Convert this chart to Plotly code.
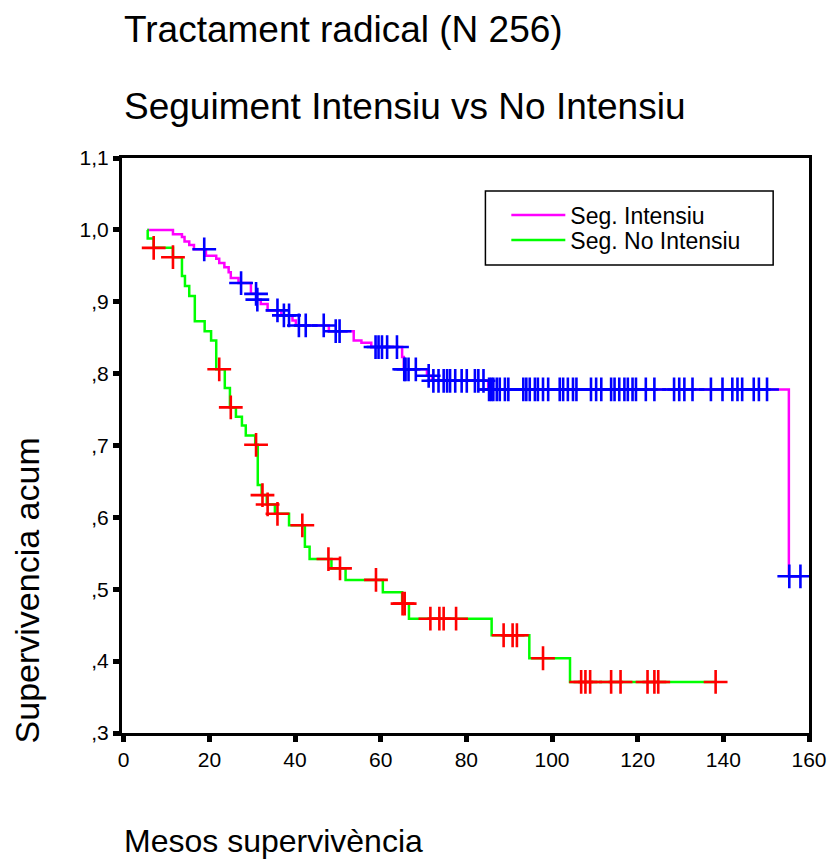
import numpy as np
import plotly.graph_objects as go

# ---------------- data ----------------
int_start = 5.5
int_event_t = [11.5, 13.6, 14.2, 15.3, 16.4, 19.2, 21.6, 22.3, 23.5, 24.5, 25.0, 26.8,
               29.7, 31.1, 32.0, 33.6, 36.8, 39.4, 40.2, 47.9, 53.7, 55.5, 57.8, 65.0,
               65.4, 70.8, 72.0, 85.1, 155.3]
int_event_s = [0.994, 0.990, 0.984, 0.979, 0.973, 0.964, 0.960, 0.954, 0.948, 0.941, 0.933, 0.926,
               0.911, 0.903, 0.897, 0.888, 0.881, 0.874, 0.867, 0.859, 0.846, 0.843, 0.837, 0.823,
               0.806, 0.797, 0.790, 0.778, 0.518]
int_censor = [18.8, 27.4, 30.9, 31.2, 35.9, 37.4, 38.6, 40.9, 42.5, 46.7, 49.5, 50.4, 58.8, 59.5,
              60.3, 61.5, 63.8, 65.5, 65.8, 66.5, 68.2, 71.2, 72.3, 73.5, 74.7, 75.5, 76.2, 77.4,
              78.9, 80.1, 82.0, 82.8, 84.0, 85.3, 85.8, 86.3, 87.1, 87.8, 89.0, 89.8, 93.3, 94.0,
              94.8, 96.0, 96.7, 97.9, 99.1, 101.8, 102.6, 103.7, 104.9, 105.7, 109.1, 110.3, 111.5,
              113.8, 114.6, 115.7, 116.9, 117.7, 118.8, 119.6, 121.9, 123.9, 128.5, 129.7, 130.9,
              132.8, 137.1, 139.8, 142.1, 143.3, 144.4, 147.1, 148.3, 150.2, 155.4, 158.0]

noint_start = 5.5
noint_event_t = [5.6, 7.0, 11.5, 13.6, 14.3, 15.3, 16.6, 18.9, 20.4, 21.6, 23.6, 24.8, 26.2,
                 27.6, 28.5, 30.7, 31.3, 32.2, 33.4, 35.3, 38.6, 42.3, 43.4, 48.5, 51.8, 60.5,
                 65.0, 66.6, 85.9, 94.7, 104.2]
noint_event_s = [0.988, 0.975, 0.962, 0.936, 0.922, 0.908, 0.873, 0.859, 0.846, 0.806, 0.780, 0.753,
                 0.740, 0.728, 0.714, 0.701, 0.645, 0.631, 0.618, 0.605, 0.589, 0.559, 0.542, 0.529,
                 0.513, 0.496, 0.480, 0.459, 0.436, 0.404, 0.371]
noint_censor = [7.0, 11.5, 22.3, 25.0, 30.9, 32.4, 33.6, 35.9, 41.7, 47.8, 50.5, 58.9, 65.1, 65.6,
                71.6, 73.7, 74.7, 77.6, 88.7, 90.8, 91.8, 97.9, 106.8, 107.8, 108.9, 113.8, 116.0,
                122.3, 123.9, 124.8, 138.2]

y_tickvals = [0.3, 0.4, 0.5, 0.6, 0.7, 0.8, 0.9, 1.0, 1.1]
y_ticktext = [",3", ",4", ",5", ",6", ",7", ",8", ",9", "1,0", "1,1"]
x_tickvals = [0, 20, 40, 60, 80, 100, 120, 140, 160]

series_names = ["Seg. Intensiu", "Seg. No Intensiu"]


def km_steps(start, ev_t, ev_s, censor):
    xs = [start] + list(ev_t)
    ys = [1.0] + list(ev_s)
    end = max(censor + list(ev_t))
    xs.append(end)
    ys.append(ys[-1])
    return xs, ys


def censor_y(start, ev_t, ev_s, censor):
    t = np.array([start] + list(ev_t))
    s = np.array([1.0] + list(ev_s))
    idx = np.searchsorted(t, np.array(censor), side="right") - 1
    return s[idx]


FONT = "Liberation Sans, Arial, sans-serif"

# plot area in the reference (pixels); page body adds an 8px offset
PL, PT, PW, PH = 122, 158, 690, 575
OFF = 8


def px(xp):
    return (xp - PL) / PW


def py(yp):
    return 1 - (yp - PT) / PH


fig = go.Figure()

ix, iy = km_steps(int_start, int_event_t, int_event_s, int_censor)
nx, ny = km_steps(noint_start, noint_event_t, noint_event_s, noint_censor)

fig.add_trace(go.Scatter(x=ix, y=iy, mode="lines", line=dict(shape="hv", color="#FF00FF", width=2.5),
                         name=series_names[0], legend="legend"))
fig.add_trace(go.Scatter(x=nx, y=ny, mode="lines", line=dict(shape="hv", color="#00FF00", width=2.5),
                         name=series_names[1], legend="legend2"))
fig.add_trace(go.Scatter(x=int_censor, y=censor_y(int_start, int_event_t, int_event_s, int_censor),
                         mode="markers", showlegend=False,
                         marker=dict(symbol="cross-thin", size=17, color="#0000FF",
                                     line=dict(width=2.6, color="#0000FF"))))
fig.add_trace(go.Scatter(x=noint_censor, y=censor_y(noint_start, noint_event_t, noint_event_s, noint_censor),
                         mode="markers", showlegend=False,
                         marker=dict(symbol="cross-thin", size=17, color="#FF0000",
                                     line=dict(width=2.6, color="#FF0000"))))

leg_common = dict(xanchor="left", yanchor="middle", bgcolor="rgba(0,0,0,0)", borderwidth=0,
                  font=dict(family=FONT, size=23, color="black"), itemwidth=54)

fig.update_layout(
    width=839 - OFF, height=861 - OFF,
    margin=dict(l=PL - OFF, r=839 - (PL + PW), t=PT - OFF, b=861 - (PT + PH)),
    paper_bgcolor="white", plot_bgcolor="white",
    font=dict(family=FONT, color="black"),
    showlegend=True,
    legend=dict(x=px(508), y=py(215), **leg_common),
    legend2=dict(x=px(508), y=py(240), **leg_common),
)

fig.add_shape(type="rect", xref="paper", yref="paper",
              x0=px(487), x1=px(776), y0=py(265), y1=py(191),
              line=dict(color="black", width=1.5), fillcolor="rgba(0,0,0,0)")

fig.update_xaxes(range=[-0.4, 160], tickvals=x_tickvals, ticks="outside", ticklen=6, tickwidth=5,
                 tickcolor="black", showline=True, linecolor="black", linewidth=3, mirror=True,
                 showgrid=False, zeroline=False,
                 tickfont=dict(family=FONT, size=21, color="black"))
fig.update_yaxes(range=[0.3, 1.1], tickvals=y_tickvals, ticktext=y_ticktext, ticks="outside",
                 ticklen=6, tickwidth=5, tickcolor="black", showline=True, linecolor="black",
                 linewidth=3, mirror=True, showgrid=False, zeroline=False,
                 tickfont=dict(family=FONT, size=21, color="black"))

fig.add_annotation(text="Tractament radical (N 256)", xref="paper", yref="paper",
                   x=0, y=py(30), xanchor="left", yanchor="middle", showarrow=False,
                   font=dict(family=FONT, size=37, color="black"))
fig.add_annotation(text="Seguiment Intensiu vs No Intensiu", xref="paper", yref="paper",
                   x=0, y=py(107), xanchor="left", yanchor="middle", showarrow=False,
                   font=dict(family=FONT, size=37, color="black"))
fig.add_annotation(text="Supervivencia acum", xref="paper", yref="paper",
                   x=px(27), y=py(590), xanchor="center", yanchor="middle",
                   textangle=-90, showarrow=False,
                   font=dict(family=FONT, size=34, color="black"))
fig.add_annotation(text="Mesos supervivència", xref="paper", yref="paper",
                   x=0, y=py(841), xanchor="left", yanchor="middle", showarrow=False,
                   font=dict(family=FONT, size=32, color="black"))

fig.write_html("out.html")
